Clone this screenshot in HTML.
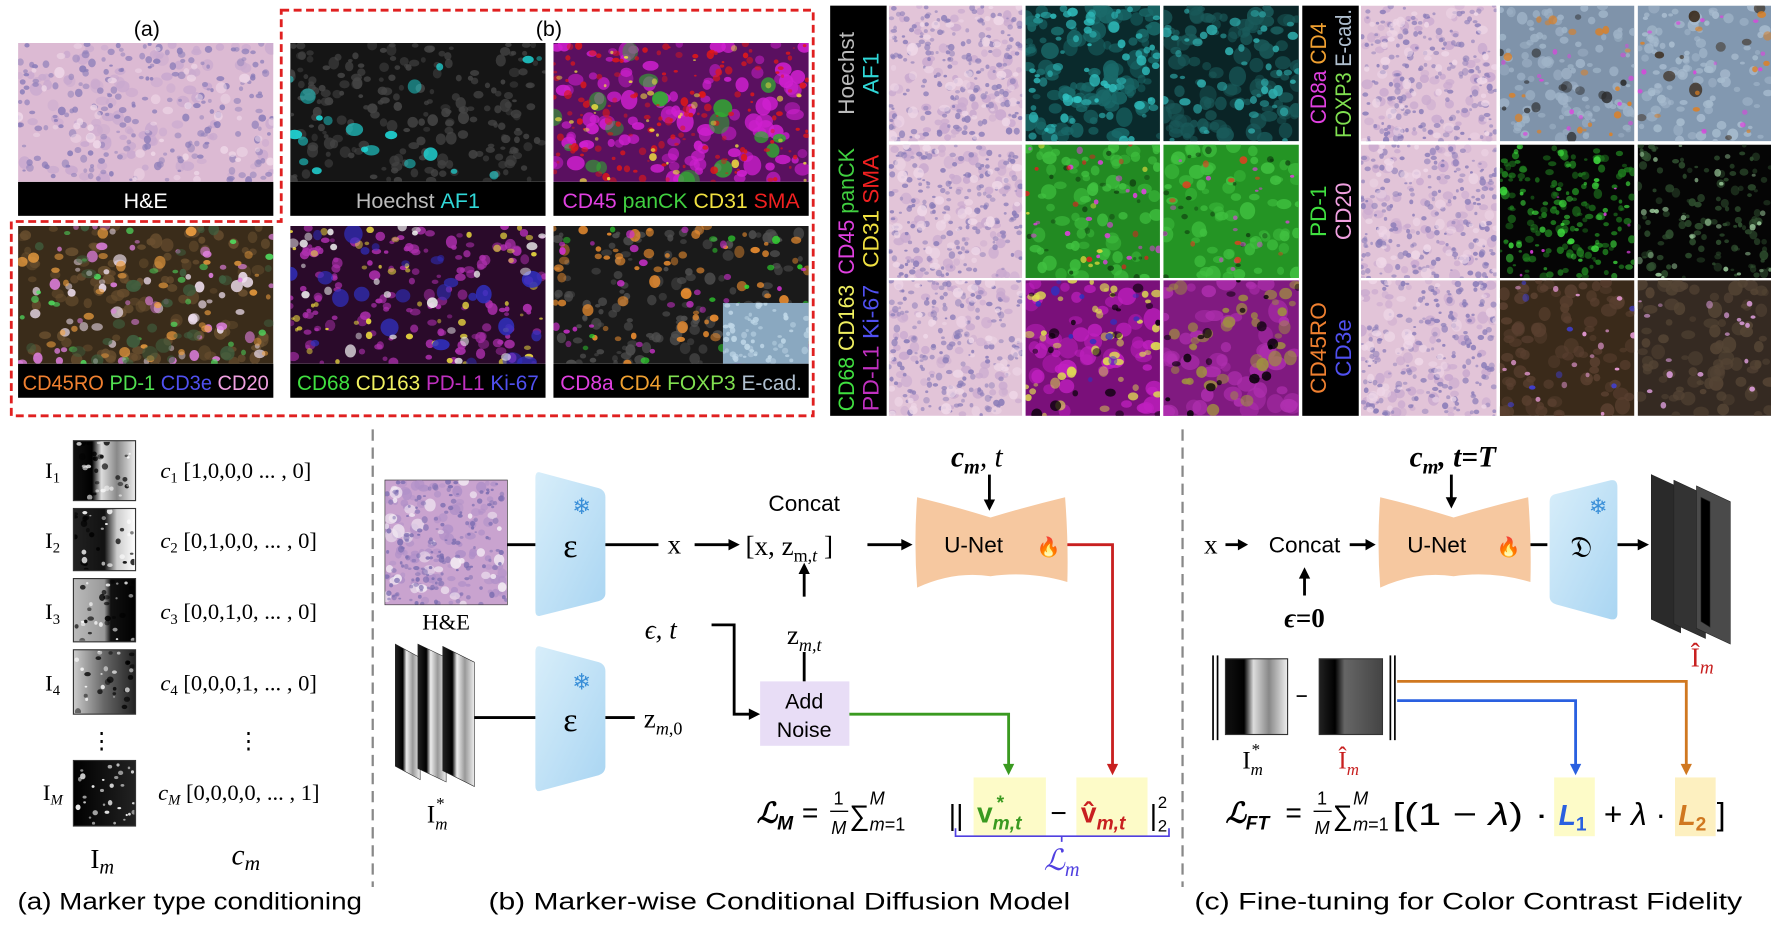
<!DOCTYPE html>
<html><head><meta charset="utf-8"><style>
html,body{margin:0;padding:0;background:#fff;}
svg{display:block;}
text{font-family:"Liberation Sans",sans-serif;}
.m{font-family:"Liberation Serif",serif;}
</style></head><body>
<svg id="root" width="1771" height="930" viewBox="0 0 1568 823" preserveAspectRatio="none" xmlns="http://www.w3.org/2000/svg">
<defs>
<linearGradient id="enc" x1="0" y1="0" x2="1" y2="1"><stop offset="0" stop-color="#d8eefa"/><stop offset="1" stop-color="#a9d5f2"/></linearGradient>
<linearGradient id="gs1" x1="0" x2="1"><stop offset="0" stop-color="#111"/><stop offset=".3" stop-color="#000"/><stop offset=".45" stop-color="#ddd"/><stop offset=".7" stop-color="#888"/><stop offset="1" stop-color="#eee"/></linearGradient>
<linearGradient id="gs2" x1="0" x2="1"><stop offset="0" stop-color="#222"/><stop offset=".5" stop-color="#111"/><stop offset=".7" stop-color="#ccc"/><stop offset="1" stop-color="#fff"/></linearGradient>
<linearGradient id="gs3" x1="0" x2="1"><stop offset="0" stop-color="#bbb"/><stop offset=".5" stop-color="#999"/><stop offset=".6" stop-color="#111"/><stop offset="1" stop-color="#000"/></linearGradient>
<linearGradient id="gs4" x1="0" x2="1"><stop offset="0" stop-color="#ccc"/><stop offset=".5" stop-color="#666"/><stop offset="1" stop-color="#222"/></linearGradient>
<linearGradient id="gs5" x1="0" x2="1"><stop offset="0" stop-color="#000"/><stop offset="1" stop-color="#222"/></linearGradient>
<linearGradient id="dk" x1="0" x2="1"><stop offset="0" stop-color="#222"/><stop offset=".25" stop-color="#000"/><stop offset=".4" stop-color="#666"/><stop offset="1" stop-color="#444"/></linearGradient>
<linearGradient id="wh" x1="0" x2="1"><stop offset="0" stop-color="#222"/><stop offset=".3" stop-color="#000"/><stop offset=".45" stop-color="#eee"/><stop offset=".7" stop-color="#999"/><stop offset="1" stop-color="#eee"/></linearGradient>
</defs>
<g id="panels"></g>

<g font-size="19">
<rect x="16" y="161" width="226" height="30" fill="#000"/>
<text x="129" y="184" fill="#fff" text-anchor="middle">H&amp;E</text>
<rect x="257" y="161" width="226" height="30" fill="#000"/>
<text x="370" y="184" text-anchor="middle"><tspan fill="#bbb">Hoechst</tspan> <tspan fill="#30d8d8">AF1</tspan></text>
<rect x="490" y="161" width="226" height="30" fill="#000"/>
<text x="498" y="184" textLength="210" lengthAdjust="spacingAndGlyphs"><tspan fill="#e040e0">CD45</tspan> <tspan fill="#40d040">panCK</tspan> <tspan fill="#f0e040">CD31</tspan> <tspan fill="#f02020">SMA</tspan></text>
<rect x="16" y="322" width="226" height="30" fill="#000"/>
<text x="20" y="345" textLength="218" lengthAdjust="spacingAndGlyphs"><tspan fill="#f08030">CD45RO</tspan> <tspan fill="#50e050">PD-1</tspan> <tspan fill="#5050f0">CD3e</tspan> <tspan fill="#f0a0e0">CD20</tspan></text>
<rect x="257" y="322" width="226" height="30" fill="#000"/>
<text x="263" y="345" textLength="214" lengthAdjust="spacingAndGlyphs"><tspan fill="#40e040">CD68</tspan> <tspan fill="#f0f060">CD163</tspan> <tspan fill="#c030c0">PD-L1</tspan> <tspan fill="#5050f0">Ki-67</tspan></text>
<rect x="490" y="322" width="226" height="30" fill="#000"/>
<text x="496" y="345" textLength="214" lengthAdjust="spacingAndGlyphs"><tspan fill="#e040e0">CD8a</tspan> <tspan fill="#f0a030">CD4</tspan> <tspan fill="#80e050">FOXP3</tspan> <tspan fill="#b0c0d0">E-cad.</tspan></text>
</g>
<text x="130" y="32" font-size="19" text-anchor="middle">(a)</text>
<text x="486" y="32" font-size="19" text-anchor="middle">(b)</text>
<path d="M249,9 H720 V368 H10 V196 H249 Z" fill="none" stroke="#e02020" stroke-width="2.5" stroke-dasharray="7,4"/>

<rect x="735" y="5" width="50" height="363" fill="#000"/>
<rect x="1153" y="5" width="50" height="363" fill="#000"/>
<g font-size="20" text-anchor="middle">
<text transform="translate(760,65) rotate(-90)" y="-4"><tspan fill="#bbb">Hoechst</tspan></text>
<text transform="translate(760,65) rotate(-90)" y="18"><tspan fill="#30d8d8">AF1</tspan></text>
<text transform="translate(760,187) rotate(-90)" y="-4" textLength="112" lengthAdjust="spacingAndGlyphs"><tspan fill="#e040e0">CD45</tspan> <tspan fill="#40d040">panCK</tspan></text>
<text transform="translate(760,187) rotate(-90)" y="18" textLength="100" lengthAdjust="spacingAndGlyphs"><tspan fill="#f0e040">CD31</tspan> <tspan fill="#f02020">SMA</tspan></text>
<text transform="translate(760,308) rotate(-90)" y="-4" textLength="112" lengthAdjust="spacingAndGlyphs"><tspan fill="#40e040">CD68</tspan> <tspan fill="#f0f060">CD163</tspan></text>
<text transform="translate(760,308) rotate(-90)" y="18" textLength="112" lengthAdjust="spacingAndGlyphs"><tspan fill="#c030c0">PD-L1</tspan> <tspan fill="#5050f0">Ki-67</tspan></text>
<text transform="translate(1178,65) rotate(-90)" y="-4" textLength="90" lengthAdjust="spacingAndGlyphs"><tspan fill="#e040e0">CD8a</tspan> <tspan fill="#f0a030">CD4</tspan></text>
<text transform="translate(1178,65) rotate(-90)" y="18" textLength="114" lengthAdjust="spacingAndGlyphs"><tspan fill="#80e050">FOXP3</tspan> <tspan fill="#b0c0d0">E-cad.</tspan></text>
<text transform="translate(1178,187) rotate(-90)" y="-4"><tspan fill="#40e040">PD-1</tspan></text>
<text transform="translate(1178,187) rotate(-90)" y="18"><tspan fill="#f0a0e0">CD20</tspan></text>
<text transform="translate(1178,308) rotate(-90)" y="-4"><tspan fill="#f08030">CD45RO</tspan></text>
<text transform="translate(1178,308) rotate(-90)" y="18"><tspan fill="#5050f0">CD3e</tspan></text>
</g>

<line x1="330" y1="380" x2="330" y2="785" stroke="#888" stroke-width="2" stroke-dasharray="10,6"/>
<line x1="1047" y1="380" x2="1047" y2="785" stroke="#888" stroke-width="2" stroke-dasharray="10,6"/>

<g>
<rect x="65" y="390" width="55" height="53" fill="url(#gs1)" stroke="#333"/>
<rect x="65" y="450" width="55" height="55" fill="url(#gs2)" stroke="#333"/>
<rect x="65" y="512" width="55" height="56" fill="url(#gs3)" stroke="#333"/>
<rect x="65" y="575" width="55" height="57" fill="url(#gs4)" stroke="#333"/>
<rect x="65" y="673" width="55" height="58" fill="url(#gs5)" stroke="#333"/>
</g>
<g id="gtex"></g>
<g class="m" font-size="20" fill="#000">
<text x="40" y="423" class="m">I<tspan font-size="13" dy="4">1</tspan></text>
<text x="40" y="485" class="m">I<tspan font-size="13" dy="4">2</tspan></text>
<text x="40" y="548" class="m">I<tspan font-size="13" dy="4">3</tspan></text>
<text x="40" y="611" class="m">I<tspan font-size="13" dy="4">4</tspan></text>
<text x="38" y="708" class="m">I<tspan font-size="13" dy="4" font-style="italic">M</tspan></text>
<text x="90" y="662" class="m" text-anchor="middle">⋮</text>
<text x="220" y="662" class="m" text-anchor="middle">⋮</text>
<text x="142" y="423" class="m"><tspan font-style="italic">c</tspan><tspan font-size="13" dy="4">1</tspan><tspan dy="-4"> [1,0,0,0  ... , 0]</tspan></text>
<text x="142" y="485" class="m"><tspan font-style="italic">c</tspan><tspan font-size="13" dy="4">2</tspan><tspan dy="-4"> [0,1,0,0, ... , 0]</tspan></text>
<text x="142" y="548" class="m"><tspan font-style="italic">c</tspan><tspan font-size="13" dy="4">3</tspan><tspan dy="-4"> [0,0,1,0, ... , 0]</tspan></text>
<text x="142" y="611" class="m"><tspan font-style="italic">c</tspan><tspan font-size="13" dy="4">4</tspan><tspan dy="-4"> [0,0,0,1, ... , 0]</tspan></text>
<text x="140" y="708" class="m"><tspan font-style="italic">c</tspan><tspan font-size="13" dy="4" font-style="italic">M</tspan><tspan dy="-4"> [0,0,0,0, ... , 1]</tspan></text>
<text x="80" y="768" class="m" font-size="24">I<tspan font-style="italic" font-size="18" dy="5">m</tspan></text>
<text x="205" y="765" class="m" font-size="26" font-style="italic">c<tspan font-size="19" dy="5">m</tspan></text>
</g>
<text x="168" y="805" font-size="21" text-anchor="middle" textLength="305" lengthAdjust="spacingAndGlyphs">(a) Marker type conditioning</text>

<rect x="341" y="425" width="108" height="110" fill="#c9a3cf" stroke="#333"/>
<g id="hestub"></g>
<text x="395" y="557" class="m" font-size="20" text-anchor="middle">H&amp;E</text>
<g stroke="#222" stroke-width="0.5">
<polygon points="350,570 372,582 372,690 350,678" fill="url(#wh)"/>
<polygon points="370,570 395,582 395,692 370,680" fill="url(#wh)"/>
<polygon points="392,572 420,586 420,696 392,682" fill="url(#wh)"/>
</g>
<text x="378" y="728" class="m" font-size="22">I<tspan font-size="15" dy="6" font-style="italic">m</tspan><tspan font-size="15" dx="-10" dy="-18">*</tspan></text>
<path d="M478,418 L530,432 Q536,434 536,440 L536,525 Q536,530 530,532 L478,545 Q474,546 474,540 L474,423 Q474,417 478,418 Z" fill="url(#enc)"/>
<path d="M478,572 L530,586 Q536,588 536,594 L536,678 Q536,684 530,686 L478,700 Q474,701 474,695 L474,577 Q474,571 478,572 Z" fill="url(#enc)"/>
<text x="515" y="455" font-size="20" fill="#3a8fd8" text-anchor="middle">❄</text>
<text x="515" y="610" font-size="20" fill="#3a8fd8" text-anchor="middle">❄</text>
<text x="505" y="493" class="m" font-size="30" text-anchor="middle">ε</text>
<text x="505" y="647" class="m" font-size="30" text-anchor="middle">ε</text>
<g stroke="#000" stroke-width="2.5" fill="none">
<line x1="449" y1="482" x2="474" y2="482"/>
<line x1="536" y1="482" x2="583" y2="482"/>
<line x1="615" y1="482" x2="648" y2="482"/>
<line x1="712" y1="528" x2="712" y2="506"/>
<line x1="712" y1="577" x2="712" y2="603"/>
<polyline points="630,553 650,553 650,632 665,632"/>
<line x1="420" y1="635" x2="474" y2="635"/>
<line x1="536" y1="635" x2="562" y2="635"/>
<line x1="768" y1="482" x2="800" y2="482"/>
<line x1="876" y1="420" x2="876" y2="444"/>
</g>
<g fill="#000">
<polygon points="655,482 645,477 645,487"/>
<polygon points="712,498 707,508 717,508"/>
<polygon points="673,632 663,627 663,637"/>
<polygon points="808,482 798,477 798,487"/>
<polygon points="876,452 871,442 881,442"/>
</g>
<text x="597" y="490" class="m" font-size="24" text-anchor="middle">x</text>
<text x="712" y="452" font-size="20" text-anchor="middle">Concat</text>
<text x="660" y="491" class="m" font-size="24">[x, z<tspan font-size="16" dy="6">m,<tspan font-style="italic">t</tspan></tspan><tspan dy="-6"> ]</tspan></text>
<text x="585" y="565" class="m" font-size="24" text-anchor="middle" font-style="italic">ϵ, t</text>
<text x="712" y="570" class="m" font-size="24" text-anchor="middle">z<tspan font-size="16" dy="6" font-style="italic">m,t</tspan></text>
<text x="570" y="644" class="m" font-size="24">z<tspan font-size="16" dy="6"><tspan font-style="italic">m</tspan>,0</tspan></text>
<rect x="673" y="603" width="79" height="57" fill="#e8ddf6"/>
<text x="712" y="627" font-size="19" text-anchor="middle">Add</text>
<text x="712" y="652" font-size="19" text-anchor="middle">Noise</text>
<path d="M812,440 Q845,448 877,458 Q910,448 943,440 Q946,480 945,515 Q910,505 877,510 Q845,505 812,520 Q809,480 812,440 Z" fill="#f6c8a0"/>
<text x="862" y="489" font-size="20" text-anchor="middle">U-Net</text>
<text x="918" y="490" font-size="17" fill="#e84020">🔥</text>
<text x="842" y="413" class="m" font-size="26" font-weight="bold" font-style="italic">c<tspan font-size="18" dy="6">m</tspan><tspan dy="-6" font-weight="normal">, t</tspan></text>
<polyline points="945,482 985,482 985,678" fill="none" stroke="#c82020" stroke-width="2.5"/>
<polygon points="985,686 980,676 990,676" fill="#c82020"/>
<polyline points="752,632 893,632 893,678" fill="none" stroke="#3a9a20" stroke-width="2.5"/>
<polygon points="893,686 888,676 898,676" fill="#3a9a20"/>
<rect x="862" y="688" width="64" height="52" fill="#fdfbc8"/>
<rect x="953" y="688" width="63" height="52" fill="#fdfbc8"/>
<g class="m" font-size="25">
<text x="670" y="728" font-weight="bold" font-style="italic">ℒ<tspan font-size="17" dy="6">M</tspan></text>
<text x="710" y="728">=</text>
<text x="738" y="712" font-size="16">1</text>
<line x1="735" y1="718" x2="751" y2="718" stroke="#000" stroke-width="1.2"/>
<text x="736" y="738" font-size="16" font-style="italic">M</text>
<text x="752" y="730">∑</text>
<text x="770" y="712" font-size="16" font-style="italic">M</text>
<text x="770" y="735" font-size="16"><tspan font-style="italic">m</tspan>=1</text>
<text x="840" y="730">||</text>
<text x="865" y="728" fill="#3a9a20" font-weight="bold">v<tspan font-size="17" dy="6" font-style="italic">m,t</tspan><tspan font-size="17" dx="-22" dy="-18">*</tspan></text>
<text x="930" y="728">−</text>
<text x="957" y="728" fill="#c82020" font-weight="bold">v̂<tspan font-size="17" dy="6" font-style="italic">m,t</tspan></text>
<text x="1018" y="730">|</text>
<text x="1025" y="715" font-size="15">2</text>
<text x="1025" y="736" font-size="15">2</text>
</g>
<path d="M846,733 V740 H1035 V733 M940,740 V745" fill="none" stroke="#5040e0" stroke-width="1.5"/>
<text x="940" y="770" class="m" font-size="26" font-style="italic" fill="#5040e0" text-anchor="middle">ℒ<tspan font-size="18" dy="5">m</tspan></text>
<text x="690" y="805" font-size="21" text-anchor="middle" textLength="515" lengthAdjust="spacingAndGlyphs">(b) Marker-wise Conditional Diffusion Model</text>

<text x="1072" y="490" class="m" font-size="24" text-anchor="middle">x</text>
<g stroke="#000" stroke-width="2.5">
<line x1="1085" y1="482" x2="1098" y2="482"/>
<line x1="1195" y1="482" x2="1210" y2="482"/>
<line x1="1155" y1="527" x2="1155" y2="510"/>
<line x1="1285" y1="420" x2="1285" y2="442"/>
<line x1="1355" y1="482" x2="1370" y2="482"/>
<line x1="1432" y1="482" x2="1452" y2="482"/>
</g>
<g fill="#000">
<polygon points="1105,482 1096,477 1096,487"/>
<polygon points="1218,482 1209,477 1209,487"/>
<polygon points="1155,502 1150,512 1160,512"/>
<polygon points="1285,450 1280,440 1290,440"/>
<polygon points="1460,482 1450,477 1450,487"/>
</g>
<text x="1155" y="489" font-size="20" text-anchor="middle">Concat</text>
<text x="1155" y="555" class="m" font-size="24" font-weight="bold" text-anchor="middle" font-style="italic">ϵ<tspan font-style="normal">=0</tspan></text>
<text x="1248" y="413" class="m" font-size="26" font-weight="bold" font-style="italic">c<tspan font-size="18" dy="6">m</tspan><tspan dy="-6">, t=T</tspan></text>
<path d="M1222,440 Q1255,448 1287,458 Q1320,448 1353,440 Q1356,480 1355,515 Q1320,505 1287,510 Q1255,505 1222,520 Q1219,480 1222,440 Z" fill="#f6c8a0"/>
<text x="1272" y="489" font-size="20" text-anchor="middle">U-Net</text>
<text x="1325" y="490" font-size="17" fill="#e84020">🔥</text>
<path d="M1426,425 L1378,437 Q1372,438 1372,444 L1372,528 Q1372,533 1378,535 L1426,548 Q1432,549 1432,543 L1432,431 Q1432,424 1426,425 Z" fill="url(#enc)"/>
<text x="1415" y="455" font-size="20" fill="#3a8fd8" text-anchor="middle">❄</text>
<text x="1400" y="493" class="m" font-size="26" text-anchor="middle">𝔇</text>
<g stroke="#222" stroke-width="0.5">
<polygon points="1462,420 1488,432 1488,560 1462,548" fill="#2a2a2a"/>
<polygon points="1482,425 1510,438 1510,565 1482,552" fill="#333"/>
<polygon points="1502,430 1532,444 1532,570 1502,556" fill="#4a4a4a"/>
<polygon points="1506,440 1514,444 1514,555 1506,550" fill="#000"/>
</g>
<text x="1497" y="590" class="m" font-size="24" fill="#c82020">Î<tspan font-size="17" dy="6" font-style="italic">m</tspan></text>
<rect x="1085" y="583" width="55" height="67" fill="url(#gs1)" stroke="#333"/>
<rect x="1168" y="583" width="56" height="67" fill="url(#dk)" stroke="#333"/>
<g stroke="#000" stroke-width="1.5">
<line x1="1074" y1="580" x2="1074" y2="655"/><line x1="1078" y1="580" x2="1078" y2="655"/>
<line x1="1231" y1="580" x2="1231" y2="655"/><line x1="1235" y1="580" x2="1235" y2="655"/>
<line x1="1148" y1="616" x2="1157" y2="616"/>
</g>
<text x="1100" y="680" class="m" font-size="22">I<tspan font-size="15" dy="6" font-style="italic">m</tspan><tspan font-size="15" dx="-10" dy="-18">*</tspan></text>
<text x="1185" y="680" class="m" font-size="22" fill="#c82020">Î<tspan font-size="15" dy="6" font-style="italic">m</tspan></text>
<polyline points="1237,603 1493,603 1493,678" fill="none" stroke="#d07820" stroke-width="2.5"/>
<polygon points="1493,686 1488,676 1498,676" fill="#d07820"/>
<polyline points="1237,620 1395,620 1395,678" fill="none" stroke="#2a60e0" stroke-width="2.5"/>
<polygon points="1395,686 1390,676 1400,676" fill="#2a60e0"/>
<rect x="1376" y="688" width="36" height="52" fill="#fdfbc8"/>
<rect x="1483" y="688" width="36" height="52" fill="#fdf0c0"/>
<g class="m" font-size="25">
<text x="1085" y="728" font-weight="bold" font-style="italic">ℒ<tspan font-size="17" dy="6">FT</tspan></text>
<text x="1138" y="728">=</text>
<text x="1166" y="712" font-size="16">1</text>
<line x1="1163" y1="718" x2="1179" y2="718" stroke="#000" stroke-width="1.2"/>
<text x="1164" y="738" font-size="16" font-style="italic">M</text>
<text x="1180" y="730">∑</text>
<text x="1198" y="712" font-size="16" font-style="italic">M</text>
<text x="1198" y="735" font-size="16"><tspan font-style="italic">m</tspan>=1</text>
<text x="1233" y="730" font-size="28" textLength="138" lengthAdjust="spacingAndGlyphs">[(1 − <tspan font-style="italic">λ</tspan>) ·</text>
<text x="1380" y="730" fill="#2a60e0" font-weight="bold" font-style="italic">L<tspan font-size="17" dy="5" font-style="normal">1</tspan></text>
<text x="1420" y="730" font-size="28">+ <tspan font-style="italic">λ</tspan> ·</text>
<text x="1486" y="730" fill="#d07820" font-weight="bold" font-style="italic">L<tspan font-size="17" dy="5" font-style="normal">2</tspan></text>
<text x="1520" y="730" font-size="28">]</text>
</g>
<text x="1300" y="805" font-size="21" text-anchor="middle" textLength="485" lengthAdjust="spacingAndGlyphs">(c) Fine-tuning for Color Contrast Fidelity</text>
</svg>
<script>
(function(){
var s=12345;function r(){s=(s*16807)%2147483647;return s/2147483647;}
var NS="http://www.w3.org/2000/svg";
var g=document.getElementById("panels");
function P(x,y,w,h,bg,L,parent){
 var sv=document.createElementNS(NS,"svg");
 sv.setAttribute("x",x);sv.setAttribute("y",y);sv.setAttribute("width",w);sv.setAttribute("height",h);
 if(bg){var re=document.createElementNS(NS,"rect");re.setAttribute("width",w);re.setAttribute("height",h);re.setAttribute("fill",bg);sv.appendChild(re);}
 L.forEach(function(l){for(var i=0;i<l[1];i++){var e=document.createElementNS(NS,"ellipse");
  var rr=l[2]+r()*(l[3]-l[2]);e.setAttribute("cx",(r()*w).toFixed(1));e.setAttribute("cy",(r()*h).toFixed(1));
  e.setAttribute("rx",rr.toFixed(1));e.setAttribute("ry",(rr*(0.6+r()*0.6)).toFixed(1));e.setAttribute("fill",l[0]);e.setAttribute("opacity",(0.45+r()*0.45).toFixed(2));sv.appendChild(e);}});
 (parent||g).appendChild(sv);
}
var HE=[["#c9a9cf",90,3,6],["#8a7cb8",220,1.5,3.5],["#efd8e8",50,2,5]];
P(16,38,226,123,"#dcbad3",HE);
P(257,38,226,123,"#151515",[["#454545",220,2,5],["#20d8d8",20,2,8]]);
P(490,38,226,123,"#5a1060",[["#d020d0",110,3,8],["#30b030",18,4,10],["#e01818",160,1,3.5],["#f0e040",40,1,3.5]]);
P(16,200,226,122,"#3a2c1a",[["#6a5030",110,3,6],["#f0e0f0",40,2,6],["#e080e0",40,2,5],["#50e060",25,2,4],["#f0a040",35,2,5],["#406040",30,3,7]]);
P(257,200,226,122,"#2a0a2a",[["#b030b0",150,2,5],["#f0e040",50,1.5,4],["#3030c0",25,3,9],["#f0f0f0",25,2,5]]);
P(490,200,226,122,"#1a1a1a",[["#505050",150,2,5],["#f09030",70,2,5],["#30e030",20,2,4],["#d030d0",30,2,4]]);
P(640,268,76,54,"#8aa8c0",[["#c0d8e8",60,1.5,3]]);
var cx=[[787,118],[908,119],[1030,120],[1205,120],[1328,119],[1450,118]],ry=[[5,120],[128,118],[248,120]];
var HE2=[["#c9a9cf",70,2.5,5],["#8a7cb8",190,1.2,3],["#efd8e8",40,2,5]];
for(var i=0;i<3;i++){P(cx[0][0],ry[i][0],cx[0][1],ry[i][1],"#e2c4d8",HE2);P(cx[3][0],ry[i][0],cx[3][1],ry[i][1],"#e2c4d8",HE2);}
P(908,5,119,120,"#0a2a2c",[["#1a6a6a",110,3,8],["#30c0c0",70,2,5]]);
P(1030,5,120,120,"#0a2426",[["#1a5a5a",110,3,8],["#30b0b0",50,2,5]]);
P(908,128,119,118,"#228a22",[["#40c040",70,3,7],["#104010",20,1.5,3],["#e040e0",22,1.5,3],["#e02020",12,1.5,3],["#f0e040",8,1.5,3]]);
P(1030,128,120,118,"#249424",[["#40c040",70,3,7],["#104010",20,1.5,3],["#e040e0",16,1.5,3],["#e04020",10,2,4]]);
P(908,248,119,120,"#7a107a",[["#c020c0",50,4,9],["#e0e050",50,2,5],["#000",20,2,5],["#3030c0",12,2,4]]);
P(1030,248,120,120,"#801a80",[["#b030b0",50,4,9],["#a09040",40,3,6],["#000",20,2,5]]);
P(1328,5,119,120,"#7f93aa",[["#a0b4c8",110,2,5],["#2a2a2a",14,2,5],["#e08020",20,1.5,4],["#e040e0",14,1.5,2.5]]);
P(1450,5,118,120,"#8298b0",[["#a8bccf",110,2,5],["#3a2a1a",10,2,6],["#e08020",10,1.5,4],["#e040e0",14,1.5,2.5]]);
P(1328,128,119,118,"#050505",[["#208020",160,1.5,4],["#40e040",40,1.5,3.5],["#e040e0",8,1,2]]);
P(1450,128,118,118,"#050505",[["#305030",120,1.5,4],["#a0d0a0",30,1.5,3]]);
P(1328,248,119,120,"#3a2a1a",[["#5a4030",90,3,7],["#f0a0e0",18,1.5,3],["#4040e0",8,1.5,3]]);
P(1450,248,118,120,"#352a22",[["#554535",90,3,7],["#e0a0e0",18,1.5,3]]);
P(341,425,108,110,"#c9a3cf",[["#b090c8",90,2,5],["#f4ecf4",40,2,6],["#7a6cb0",160,1.2,2.8]],document.getElementById("hestub"));
var gt=document.getElementById("gtex");
[[65,390,55,53],[65,450,55,55],[65,512,55,56],[65,575,55,57],[65,673,55,58]].forEach(function(b,i){
 P(b[0]+1,b[1]+1,b[2]-2,b[3]-2,null,[["#000",i==4?0:18,1.5,3],["#fff",i==4?30:14,1,2.5]],gt);});
})();
</script>
</body></html>
